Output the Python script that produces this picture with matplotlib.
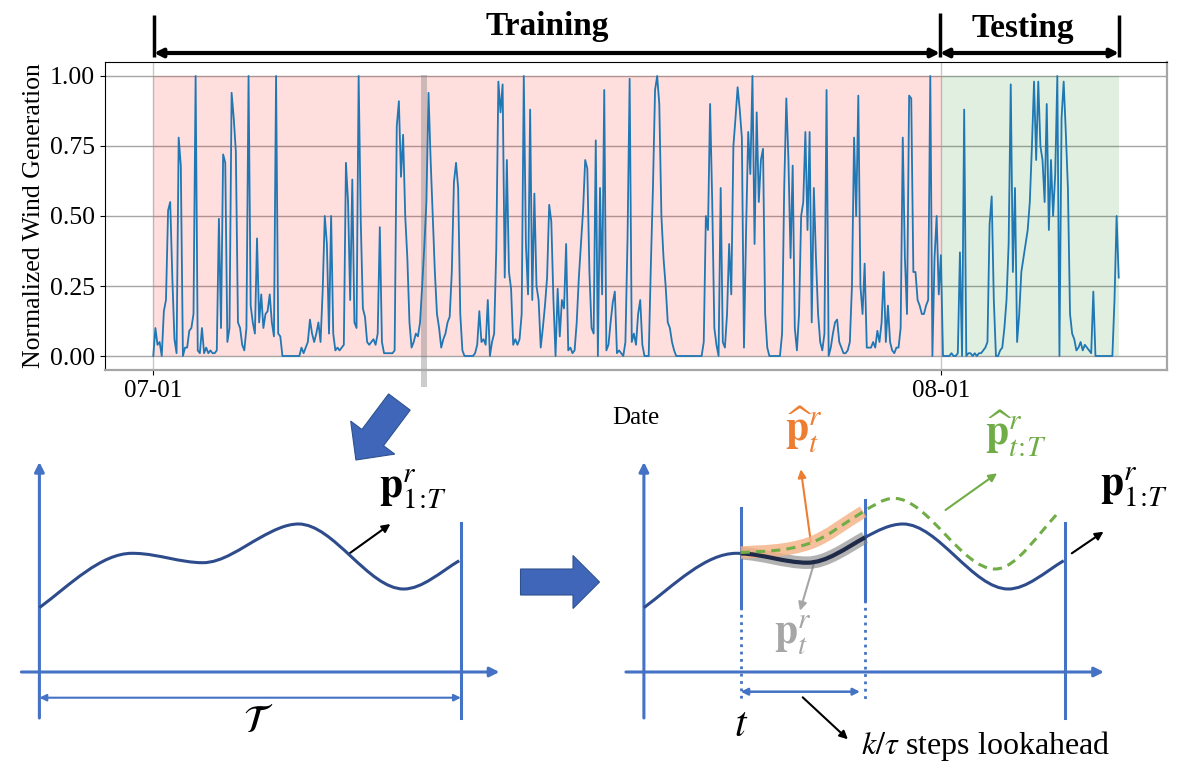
import numpy as np
import pandas as pd
import matplotlib
matplotlib.use('Agg')
import matplotlib.pyplot as plt
import matplotlib.dates as mdates
import matplotlib.transforms as mtransforms
from matplotlib.path import Path
from matplotlib.patches import PathPatch, FancyArrow, Rectangle

plt.rcParams['font.family'] = ['Liberation Serif', 'DejaVu Serif']
plt.rcParams['mathtext.fontset'] = 'stix'

# normalized wind generation, one value every 2 hours
train_gen = [
    0.0, 0.10, 0.04, 0.05, 0.0, 0.16, 0.20, 0.52, 0.55, 0.28, 0.06, 0.01,
    0.78, 0.68, 0.0, 0.03, 0.03, 0.09, 0.10, 0.15, 1.0, 0.02, 0.01, 0.10,
    0.01, 0.03, 0.01, 0.02, 0.01, 0.01, 0.02, 0.49, 0.10, 0.72, 0.69, 0.05,
    0.10, 0.94, 0.85, 0.73, 0.12, 0.10, 0.04, 0.02, 0.10, 1.0, 0.18, 0.12,
    0.08, 0.42, 0.12, 0.22, 0.10, 0.15, 0.16, 0.22, 0.12, 0.07, 1.0, 0.08,
    0.07, 0.0, 0.0, 0.0, 0.0, 0.0, 0.0, 0.0, 0.0, 0.0, 0.03, 0.01,
    0.03, 0.05, 0.13, 0.08, 0.05, 0.08, 0.12, 0.05, 0.23, 0.50, 0.40, 0.08,
    0.50, 0.08, 0.02, 0.03, 0.02, 0.03, 0.04, 0.69, 0.55, 0.20, 0.63, 0.12,
    0.10, 1.0, 0.48, 0.17, 0.14, 0.05, 0.04, 0.05, 0.06, 0.04, 0.08, 0.46,
    0.05, 0.01, 0.01, 0.01, 0.01, 0.01, 0.02, 0.82, 0.91, 0.64, 0.79, 0.50,
    0.35, 0.12, 0.03, 0.05, 0.08, 0.07, 0.12, 0.25, 0.39, 0.55, 0.94, 0.70,
    0.50, 0.30, 0.15, 0.10, 0.03, 0.06, 0.08, 0.12, 0.14, 0.30, 0.62, 0.69,
    0.60, 0.15, 0.02, 0.0, 0.0, 0.0, 0.0, 0.0, 0.01, 0.04, 0.16, 0.05,
    0.06, 0.04, 0.20, 0.0, 0.05, 0.08, 0.38, 0.98, 0.87, 0.97, 0.28, 0.70,
    0.30, 0.24, 0.04, 0.06, 0.04, 0.06, 0.15, 1.0, 0.40, 0.22, 0.88, 0.20,
    0.58, 0.25, 0.20, 0.03, 0.10, 0.18, 0.28, 0.54, 0.48, 0.20, 0.0, 0.24,
    0.07, 0.20, 0.17, 0.40, 0.02, 0.03, 0.01, 0.02, 0.12, 0.28, 0.40, 0.52,
    0.70, 0.67, 0.30, 0.10, 0.08, 0.77, 0.0, 0.60, 0.22, 0.95, 0.02, 0.04,
    0.12, 0.19, 0.23, 0.01, 0.02, 0.01, 0.0, 0.05, 0.42, 0.99, 0.05, 0.08,
    0.04, 0.15, 0.20, 0.04, 0.0, 0.0, 0.0, 0.32, 0.60, 0.95, 1.0, 0.90,
    0.50, 0.35, 0.25, 0.12, 0.10, 0.05, 0.02, 0.0, 0.0, 0.0, 0.0, 0.0,
    0.0, 0.0, 0.0, 0.0, 0.0, 0.0, 0.0, 0.0, 0.05, 0.50, 0.45, 0.90,
    0.55, 0.10, 0.04, 0.0, 0.60, 0.05, 0.03, 0.15, 0.40, 0.22, 0.75, 0.85,
    0.96, 0.88, 0.78, 0.03, 0.45, 0.80, 0.65, 1.0, 0.40, 0.87, 0.55, 0.70,
    0.74, 0.15, 0.03, 0.0, 0.0, 0.0, 0.0, 0.0, 0.0, 0.08, 0.60, 0.92,
    0.70, 0.35, 0.68, 0.10, 0.02, 0.15, 0.50, 0.55, 0.80, 0.45, 0.80, 0.12,
    0.60, 0.35, 0.15, 0.05, 0.02, 0.08, 0.95, 0.0, 0.03, 0.08, 0.12, 0.13,
    0.05, 0.03, 0.01, 0.01, 0.02, 0.05, 0.25, 0.78, 0.50, 0.93, 0.25, 0.15,
    0.33, 0.03, 0.03, 0.03, 0.05, 0.03, 0.09, 0.05, 0.12, 0.30, 0.05, 0.18,
    0.05, 0.02, 0.01, 0.03, 0.03, 0.10, 0.78, 0.35, 0.15, 0.93, 0.92, 0.30,
    0.30, 0.20, 0.18, 0.15, 0.15, 0.18, 0.20, 1.0, 0.0, 0.35, 0.50, 0.22,
]
test_gen = [
    0.36, 0.0, 0.0, 0.0, 0.0, 0.01, 0.0, 0.0, 0.01, 0.37, 0.0, 0.88,
    0.0, 0.01, 0.01, 0.0, 0.01, 0.0, 0.01, 0.01, 0.02, 0.03, 0.05, 0.47,
    0.57, 0.20, 0.0, 0.0, 0.02, 0.03, 0.10, 0.20, 0.40, 0.97, 0.30, 0.60,
    0.05, 0.15, 0.30, 0.35, 0.40, 0.45, 0.55, 0.75, 0.98, 0.70, 0.98, 0.75,
    0.70, 0.55, 0.90, 0.45, 0.70, 0.50, 0.65, 1.0, 0.0, 0.85, 0.98, 0.80,
    0.60, 0.15, 0.08, 0.06, 0.02, 0.03, 0.05, 0.02, 0.04, 0.03, 0.02, 0.01,
    0.23, 0.0, 0.0, 0.0, 0.0, 0.0, 0.0, 0.0, 0.0, 0.0, 0.20, 0.50, 0.28,
]
start = '2021-07-01'
split = '2021-08-01'
window = ('2021-07-11 13:00', '2021-07-11 19:00')
yticks = [0.0, 0.25, 0.5, 0.75, 1.0]

# schematic curve (x steps, y height above the drawn time axis)
curve_x = [0, 92.6, 96.8, 163.4, 221, 259.1, 364.3, 419.8]
curve_y = [64.3, 118.7, 118.6, 109.3, 134.5, 148, 83, 111.3]
curve_s = [0.75, 0, -0.03, 0, 0.55, 0, 0, 0.6]
fc_x = [96.8, 165.7, 219.3, 249.9, 351.3, 416.4]
fc_y = [119.5, 128.7, 160.3, 173.7, 103, 161.3]
fc_s = [0.05, 0.35, 0.6, 0, 0, 1.0]
t_step = 96.8
k_step = 221.1
T_end = 421.5

W, H = 1181, 771
fig = plt.figure(figsize=(W / 100, H / 100), dpi=100)

# ---------- top: time series ----------
ax = fig.add_axes([105 / W, 1 - 370 / H, 1062 / W, 308 / H])
gen = train_gen + test_gen
times = pd.date_range(start, periods=len(gen), freq='2h')
t0, ts, t1 = times[0], pd.Timestamp(split), times[-1]

ax.fill_between([t0, ts], 0, 1, color='red', alpha=0.13, lw=0, zorder=1)
ax.fill_between([ts, t1], 0, 1, color='green', alpha=0.12, lw=0, zorder=1)
ax.plot(times, gen, color='#1f77b4', lw=1.3, zorder=3)

trans = mtransforms.blended_transform_factory(ax.transData, ax.transAxes)
w0 = mdates.date2num(pd.Timestamp(window[0]))
w1 = mdates.date2num(pd.Timestamp(window[1]))
ax.add_patch(Rectangle((w0, -0.055), w1 - w0, 0.958 + 0.055, transform=trans,
                       color='gray', alpha=0.4, lw=0, clip_on=False, zorder=2))

ax.set_yticks(yticks)
ax.set_yticklabels(['%.2f' % v for v in yticks])
ax.set_xticks([t0, ts])
ax.xaxis.set_major_formatter(mdates.DateFormatter('%m-%d'))
ax.tick_params(axis='y', labelsize=18.5)
ax.tick_params(axis='x', labelsize=18)
ax.grid(axis='y', color='#a6a6a6', lw=1)
ax.grid(axis='x', color='#c8c8c8', lw=1)
ax.set_axisbelow(True)
ax.set_ylabel('Normalized Wind Generation', fontsize=18.5, labelpad=4)
ax.set_xlabel('Date', fontsize=18, labelpad=4)
for side in ['top', 'left']:
    ax.spines[side].set_color('black')
for side in ['right', 'bottom']:
    ax.spines[side].set_color('#a6a6a6')
    ax.spines[side].set_linewidth(1.6)

# ---------- overlay for annotations / schematic (pixel units) ----------
ad = fig.add_axes([0, 0, 1, 1])
ad.set_xlim(0, W)
ad.set_ylim(H, 0)
ad.axis('off')
ad.patch.set_alpha(0)

# training / testing brackets
for xb, yt in [(154, 15), (940, 13), (1119, 15)]:
    ad.plot([xb, xb], [yt, 57], color='black', lw=2.5, solid_capstyle='butt')
for xa, xb in [(154, 940), (940, 1119)]:
    ad.annotate('', xy=(xb, 53), xytext=(xa, 53),
                arrowprops=dict(arrowstyle='<|-|>', lw=3, color='black',
                                mutation_scale=12, shrinkA=0, shrinkB=0))
ad.text(547, 27, 'Training', fontsize=24, fontweight='bold', ha='center', va='center')
ad.text(1023, 29, 'Testing', fontsize=24, fontweight='bold', ha='center', va='center')

# block arrows
arrow_c = '#3F66B8'
ad.add_patch(FancyArrow(399.4, 402, -43.5, 58, width=27, head_width=55, head_length=28,
                        length_includes_head=True, fc=arrow_c, ec='#2F528F', lw=0.8))
ad.add_patch(FancyArrow(520.5, 582, 79, 0, width=26, head_width=53, head_length=26.5,
                        length_includes_head=True, fc=arrow_c, ec='#2F528F', lw=0.8))

axis_c = '#4472C4'
curve_c = '#2E4C8C'


def smooth_path(xs, ys, ss, ox, oy):
    verts = [(ox + xs[0], oy - ys[0])]
    codes = [Path.MOVETO]
    for i in range(len(xs) - 1):
        h = (xs[i + 1] - xs[i]) / 3
        verts += [(ox + xs[i] + h, oy - ys[i] - ss[i] * h),
                  (ox + xs[i + 1] - h, oy - ys[i + 1] + ss[i + 1] * h),
                  (ox + xs[i + 1], oy - ys[i + 1])]
        codes += [Path.CURVE4] * 3
    return Path(verts, codes)


def arrow(tail, tip, color, lw=1.5, style='-|>', ms=12):
    ad.annotate('', xy=tip, xytext=tail,
                arrowprops=dict(arrowstyle=style, color=color, lw=lw,
                                mutation_scale=ms, shrinkA=0, shrinkB=0))


def panel(ox, oy):
    arrow((ox, oy + 46), (ox, oy - 210), axis_c, lw=2.2, ms=14)
    arrow((ox - 18, oy), (ox + 460, oy), axis_c, lw=2.2, ms=14)
    ad.plot([ox + T_end] * 2, [oy + 46, oy - 149], color=axis_c, lw=2.2)
    ad.add_patch(PathPatch(smooth_path(curve_x, curve_y, curve_s, ox, oy),
                           fc='none', ec=curve_c, lw=2.2, zorder=4))


# left panel
oxl, oyl = 39.4, 672
panel(oxl, oyl)
arrow((oxl, oyl + 25.7), (oxl + T_end, oyl + 25.7), axis_c, lw=1.5, style='<|-|>', ms=10)
ad.text(258, 722, r'$\mathcal{T}$', fontsize=28, ha='center', va='center')
arrow((350, 553), (390.4, 524), 'black')
ad.text(413, 489, r'$\mathbf{p}^{r}_{1\!:\!T}$', fontsize=30, ha='center', va='center')

# right panel
oxr, oyr = 643.9, 672
panel(oxr, oyr)
for xs, ytop, ybot in [(t_step, 164, 65.3), (k_step, 172, 72)]:
    ad.plot([oxr + xs] * 2, [oyr - ytop, oyr - ybot], color=axis_c, lw=2.2)
    ad.plot([oxr + xs] * 2, [oyr - ybot, oyr + 28], color=axis_c, lw=2, ls=':')
arrow((oxr + t_step, oyr + 19.7), (oxr + k_step - 5, oyr + 19.7), axis_c,
      lw=1.8, style='<|-|>', ms=10)

# true lookahead segment (knots 2..4 of the curve)
seg = smooth_path(curve_x[2:5], curve_y[2:5], curve_s[2:5], oxr, oyr)
ad.add_patch(PathPatch(seg, fc='none', ec='#808080', lw=9, alpha=0.6, zorder=5))
ad.add_patch(PathPatch(seg, fc='none', ec='#1E2A48', lw=3, zorder=6))

# forecast
fc_band = smooth_path(fc_x[:3], fc_y[:3], fc_s[:3], oxr, oyr)
ad.add_patch(PathPatch(fc_band, fc='none', ec='#F4B183', lw=9, alpha=0.8, zorder=5))
ad.add_patch(PathPatch(smooth_path(fc_x, fc_y, fc_s, oxr, oyr), fc='none',
                       ec='#70AD47', lw=2.2, ls=(0, (3, 2)), zorder=7))

arrow((810.8, 541.7), (800.8, 469.3), '#ED7D31')
ad.text(804, 430, r'$\widehat{\mathbf{p}}^{r}_{t}$', fontsize=30, color='#ED7D31',
        ha='center', va='center')
arrow((945.5, 510), (997.1, 473.3), '#70AD47')
ad.text(1016, 434, r'$\widehat{\mathbf{p}}^{r}_{t\!:\!T}$', fontsize=30, color='#70AD47',
        ha='center', va='center')
arrow((814.2, 562.7), (800, 610.7), '#A6A6A6')
ad.text(793, 635, r'$\mathbf{p}^{r}_{t}$', fontsize=30, color='#A6A6A6',
        ha='center', va='center')
arrow((1071.8, 553.3), (1103.5, 531.7), 'black')
ad.text(1134, 487, r'$\mathbf{p}^{r}_{1\!:\!T}$', fontsize=30, ha='center', va='center')

ad.text(740.7, 726, r'$t$', fontsize=30, ha='center', va='center')
arrow((802.7, 697.3), (847.9, 739.3), 'black')
ad.text(861, 746, r'$k/\tau$ steps lookahead', fontsize=23, ha='left', va='center')

fig.savefig('out.png', dpi=100)
